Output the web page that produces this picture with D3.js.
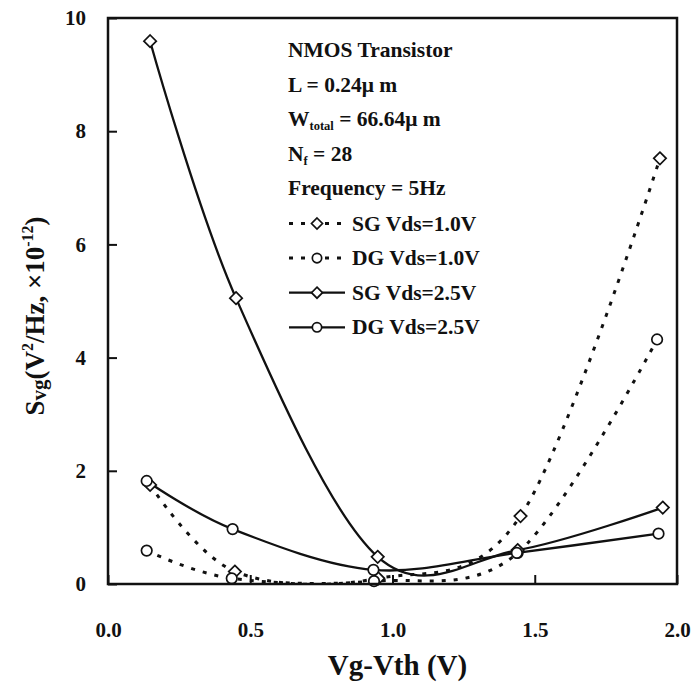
<!DOCTYPE html>
<html>
<head>
<meta charset="utf-8">
<script src="https://cdn.jsdelivr.net/npm/d3@7"></script>
<style>
  html, body { margin: 0; padding: 0; background: #fff; }
  svg text { font-family: "Liberation Serif", "Times New Roman", serif; font-weight: bold; fill: #111; }
</style>
</head>
<body>
<div id="chart"></div>
<script>
// ---- data ----
const xTicks = [0.0, 0.5, 1.0, 1.5, 2.0];
const yTicks = [0, 2, 4, 6, 8, 10];

const sg10x = [0.148, 0.446, 0.950, 1.450, 1.940];
const sg10y = [1.75, 0.22, 0.10, 1.20, 7.52];
const dg10x = [0.136, 0.435, 0.935, 1.440, 1.930];
const dg10y = [0.59, 0.10, 0.05, 0.55, 4.32];
const sg25x = [0.148, 0.450, 0.948, 1.440, 1.950];
const sg25y = [9.59, 5.05, 0.48, 0.60, 1.35];
const dg25x = [0.136, 0.438, 0.933, 1.437, 1.935];
const dg25y = [1.82, 0.97, 0.25, 0.55, 0.89];

const seriesNames = ["SG Vds=1.0V", "DG Vds=1.0V", "SG Vds=2.5V", "DG Vds=2.5V"];

// ---- layout ----
const W = 693, H = 686;
const M = { left: 108, top: 18, right: 16, bottom: 102 };
const pw = W - M.left - M.right, ph = H - M.top - M.bottom;

const svg = d3.select("#chart").append("svg").attr("width", W).attr("height", H);
const g = svg.append("g").attr("transform", `translate(${M.left},${M.top})`);

const x = d3.scaleLinear().domain([0, 2]).range([0, pw]);
const y = d3.scaleLinear().domain([0, 10]).range([ph, 0]);

g.append("clipPath").attr("id", "clip").append("rect")
  .attr("x", 0).attr("y", 0).attr("width", pw).attr("height", ph);

const series = [
  { name: seriesNames[0], xs: sg10x, ys: sg10y, shape: "diamond", dash: true },
  { name: seriesNames[1], xs: dg10x, ys: dg10y, shape: "circle", dash: true },
  { name: seriesNames[2], xs: sg25x, ys: sg25y, shape: "diamond", dash: false },
  { name: seriesNames[3], xs: dg25x, ys: dg25y, shape: "circle", dash: false }
];

const line = d3.line().x(d => x(d[0])).y(d => y(d[1])).curve(d3.curveCardinal.tension(0));

const plot = g.append("g").attr("clip-path", "url(#clip)");
series.forEach(s => {
  const pts = s.xs.map((v, i) => [v, s.ys[i]]);
  plot.append("path").datum(pts)
    .attr("d", line)
    .attr("fill", "none")
    .attr("stroke", "#111")
    .attr("stroke-width", s.dash ? 3 : 2.3)
    .attr("stroke-dasharray", s.dash ? "4,8" : null);
});

function marker(sel, shape, cx, cy, r) {
  if (shape === "diamond") {
    sel.append("path")
      .attr("d", `M${cx},${cy - r}L${cx + r},${cy}L${cx},${cy + r}L${cx - r},${cy}Z`)
      .attr("fill", "#fff").attr("stroke", "#111").attr("stroke-width", 1.7);
  } else {
    sel.append("circle").attr("cx", cx).attr("cy", cy).attr("r", r * 0.85)
      .attr("fill", "#fff").attr("stroke", "#111").attr("stroke-width", 1.7);
  }
}
series.forEach(s => {
  s.xs.forEach((v, i) => marker(g, s.shape, x(v), y(s.ys[i]), 6.2));
});

// ---- axes ----
const xAxis = d3.axisBottom(x).tickValues(xTicks).tickSize(-9).tickPadding(46).tickFormat(d3.format(".1f"));
const yAxis = d3.axisLeft(y).tickValues(yTicks).tickSize(-9).tickPadding(22).tickFormat(d3.format("d"));

const gx = g.append("g").attr("transform", `translate(0,${ph})`).call(xAxis);
const gy = g.append("g").call(yAxis);
[gx, gy].forEach(a => {
  a.select(".domain").remove();
  a.selectAll(".tick line").attr("stroke", "#111").attr("stroke-width", 2);
  a.selectAll(".tick text").attr("font-size", 21).attr("font-family", "Liberation Serif").attr("font-weight", "bold").attr("fill", "#111");
});
gx.selectAll(".tick text").attr("dy", "0.35em");

// frame
g.append("rect").attr("x", 0).attr("y", 0).attr("width", pw).attr("height", ph)
  .attr("fill", "none").attr("stroke", "#111").attr("stroke-width", 2.5);

// axis titles
svg.append("text").attr("x", M.left + pw / 2 + 5).attr("y", 675)
  .attr("text-anchor", "middle").attr("font-size", 29).text("Vg-Vth (V)");

const yl = svg.append("text").attr("transform", "translate(44,316) rotate(-90)")
  .attr("text-anchor", "middle").attr("font-size", 27);
yl.append("tspan").text("S");
yl.append("tspan").attr("font-size", 21).attr("dy", 2).text("vg");
yl.append("tspan").attr("dy", -2).text("(V");
yl.append("tspan").attr("font-size", 16).attr("dy", -11).text("2");
yl.append("tspan").attr("dy", 11).text("/Hz, ×10");
yl.append("tspan").attr("font-size", 16).attr("dy", -11).text("-12");
yl.append("tspan").attr("dy", 11).text(")");

// ---- annotation / legend ----
const lx = 288, fs = 21.5, step = 34.6, y0 = 57;
const ann = svg.append("g");
ann.append("text").attr("x", lx).attr("y", y0).attr("font-size", fs).text("NMOS Transistor");
ann.append("text").attr("x", lx).attr("y", y0 + step).attr("font-size", fs).text("L = 0.24μ m");
const wt = ann.append("text").attr("x", lx).attr("y", y0 + 2 * step).attr("font-size", fs);
wt.append("tspan").text("W");
wt.append("tspan").attr("font-size", 12.5).attr("dy", 4).text("total");
wt.append("tspan").attr("dy", -4).text(" = 66.64μ m");
const nf = ann.append("text").attr("x", lx).attr("y", y0 + 3 * step).attr("font-size", fs);
nf.append("tspan").text("N");
nf.append("tspan").attr("font-size", 12.5).attr("dy", 4).text("f");
nf.append("tspan").attr("dy", -4).text(" = 28");
ann.append("text").attr("x", lx).attr("y", y0 + 4 * step).attr("font-size", fs).text("Frequency = 5Hz");

series.forEach((s, i) => {
  const yy = y0 + (5 + i) * step + 0.5;
  const cy = yy - 7;
  ann.append("line").attr("x1", lx + 1).attr("x2", lx + 57).attr("y1", cy).attr("y2", cy)
    .attr("stroke", "#111").attr("stroke-width", s.dash ? 3 : 2.3)
    .attr("stroke-dasharray", s.dash ? "4,8" : null);
  marker(ann, s.shape, lx + 29, cy, 5.5);
  ann.append("text").attr("x", lx + 64).attr("y", yy).attr("font-size", fs).text(s.name);
});
</script>
</body>
</html>
